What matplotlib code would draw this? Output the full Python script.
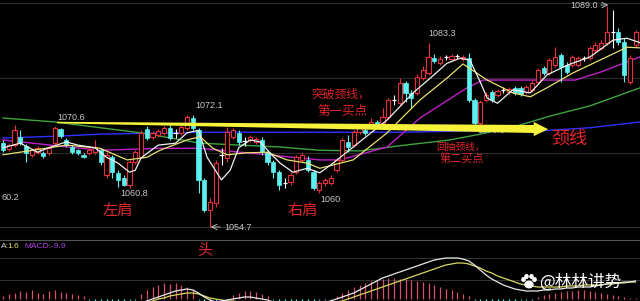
import numpy as np
import matplotlib
matplotlib.use('Agg')
import matplotlib.pyplot as plt
from matplotlib.patches import Rectangle, Polygon, Ellipse

# ---------------- data ----------------
opens = [1067.7,1066.8,1067.4,1068.7,1067.3,1065.9,1066.3,1066.2,1066.2,1067.7,
         1069.9,1068.2,1067.1,1066.6,1065.9,1066.2,1066.3,1066.6,1062.8,1065.5,
         1063.1,1062.3,1061.2,1064.8,1065.5,1069.9,1068.7,1069.0,1069.3,1070.1,
         1069.3,1069.3,1070.1,1071.6,1069.7,1062.0,1057.3,1058.4,1065.9,1065.4,
         1068.7,1069.3,1068.0,1068.2,1067.9,1068.2,1066.3,1064.8,1063.2,1061.5,
         1061.7,1063.2,1065.1,1065.1,1063.2,1060.4,1061.5,1061.5,1063.5,1065.1,
         1067.9,1067.4,1069.4,1069.7,1070.5,1071.0,1070.8,1071.8,1074.4,1073.9,
         1077.0,1075.5,1075.5,1077.8,1078.6,1080.9,1080.1,1081.1,1080.8,1081.2,
         1080.8,1080.9,1074.4,1070.8,1074.4,1075.6,1075.2,1076.0,1075.6,1076.3,
         1076.3,1075.6,1076.0,1077.2,1079.4,1078.6,1079.8,1081.4,1079.8,1079.8,
         1079.8,1080.9,1080.9,1082.2,1082.5,1083.3,1085.0,1085.0,1083.4,1077.2,
         1082.9]
closes = [1066.6,1067.4,1069.7,1067.7,1066.2,1066.6,1066.9,1065.7,1066.9,1070.1,
          1068.8,1067.4,1066.3,1066.2,1065.5,1066.6,1067.1,1064.8,1065.9,1063.2,
          1062.0,1061.2,1064.8,1066.3,1069.3,1068.5,1069.3,1069.6,1070.1,1068.5,
          1069.25,1070.2,1071.8,1070.1,1062.0,1057.3,1058.6,1064.6,1065.85,1069.4,
          1069.7,1067.9,1068.0,1068.7,1068.3,1066.3,1064.8,1063.2,1061.2,1061.5,
          1062.8,1065.5,1065.9,1063.5,1060.7,1061.5,1062.0,1062.3,1065.1,1068.2,
          1067.1,1069.4,1070.2,1069.3,1071.0,1070.5,1071.8,1074.4,1074.4,1077.0,
          1075.5,1074.7,1078.0,1079.1,1081.1,1080.5,1080.8,1081.1,1081.2,1081.2,
          1081.1,1074.4,1070.8,1074.1,1075.2,1074.4,1075.8,1076.0,1076.1,1075.5,
          1075.3,1076.4,1077.0,1079.1,1078.6,1080.6,1081.1,1079.5,1078.7,1081.1,
          1080.9,1080.9,1082.5,1082.9,1083.3,1085.0,1085.0,1083.4,1078.3,1080.9,
          1085.0]
highs = [1068.2,1067.7,1070.5,1069.7,1067.6,1066.9,1067.3,1066.5,1067.3,1070.4,
         1070.1,1068.5,1067.4,1066.8,1066.2,1066.9,1068.2,1066.9,1066.3,1065.9,
         1063.5,1062.8,1065.1,1066.6,1069.7,1070.4,1069.6,1069.9,1070.4,1070.5,
         1069.9,1070.5,1072.0,1072.1,1070.1,1062.3,1059.2,1065.1,1066.9,1070.2,
         1070.1,1069.7,1068.7,1069.0,1068.7,1068.7,1066.6,1065.1,1063.5,1062.3,
         1063.2,1065.9,1066.2,1065.7,1063.5,1061.8,1062.3,1062.8,1065.4,1068.5,
         1069.0,1069.7,1070.7,1070.2,1071.6,1071.3,1073.2,1074.7,1075.2,1077.8,
         1077.4,1076.0,1078.4,1079.7,1083.3,1081.5,1081.2,1081.4,1081.5,1081.5,
         1081.4,1081.7,1074.7,1074.4,1075.6,1076.0,1076.1,1076.4,1076.4,1076.6,
         1076.6,1076.7,1077.5,1079.4,1079.7,1080.9,1082.6,1081.7,1080.3,1081.4,
         1081.2,1081.2,1082.8,1083.4,1083.7,1089.0,1088.4,1085.6,1084.0,1081.4,
         1085.3]
lows = [1066.3,1066.5,1067.1,1067.4,1064.8,1065.5,1066.0,1065.4,1065.9,1067.4,
        1068.5,1067.1,1066.0,1065.9,1065.4,1065.9,1066.0,1064.3,1062.3,1062.3,
        1060.9,1061.0,1060.8,1064.5,1065.4,1068.2,1068.3,1068.7,1069.0,1068.2,
        1068.5,1069.0,1069.7,1069.7,1060.0,1057.0,1054.7,1057.8,1064.3,1064.8,
        1068.3,1067.4,1067.3,1067.9,1067.6,1065.9,1064.3,1062.3,1060.4,1060.7,
        1061.2,1062.9,1064.8,1063.2,1060.4,1060.0,1061.1,1061.2,1063.2,1064.8,
        1066.3,1067.1,1069.1,1069.0,1070.2,1070.2,1070.5,1071.5,1073.6,1073.6,
        1074.1,1073.2,1075.2,1077.5,1078.3,1080.1,1079.8,1080.6,1080.5,1080.8,
        1080.5,1074.1,1070.3,1070.4,1074.1,1074.1,1074.9,1075.5,1075.3,1075.2,
        1075.0,1075.3,1075.6,1076.9,1078.3,1078.3,1079.5,1077.2,1078.4,1079.5,
        1079.5,1080.5,1080.6,1081.9,1082.2,1082.9,1082.5,1082.9,1077.2,1076.9,
        1082.6]

# moving average lines (candle index, price)
ma5_idx = [0,3,6,8,11,13,16,18,20,22,23,24,27,30,32,34,35.5,38,39.5,41,43,44.7,46.4,48.2,
           50.4,52.9,55.1,57.4,60.9,66.8,71.3,74.3,77.2,79.5,81.2,83,84.2,86,88.7,91.7,94.6,
           98.1,102.1,106.1,108.5,110.8]
ma5_val = [1067.0,1067.7,1066.3,1067.0,1067.9,1067.4,1067.0,1065.5,1064.6,1063.2,1063.5,1065.4,
           1067.4,1067.7,1069.3,1069.7,1065.5,1062.0,1063.5,1067.0,1068.2,1067.9,1066.2,1064.6,
           1063.2,1063.8,1063.1,1064.6,1067.1,1071.3,1075.5,1077.8,1080.1,1080.9,1080.6,1077.2,
           1074.7,1073.9,1076.0,1075.5,1078.3,1079.8,1081.1,1083.7,1084.0,1083.3]
ma10_idx = [0,5.2,11.1,16.9,21.6,25,27.3,32,34.3,36.5,39,42.4,45.9,49.4,52.9,55.1,60.9,66.8,
            72.5,77.2,80,84.2,88.7,91.7,94.6,99.1,105,108.5,110.8]
ma10_val = [1065.9,1066.6,1067.4,1066.9,1065.1,1065.5,1066.6,1068.2,1068.7,1066.9,1065.9,1066.2,
            1066.3,1065.1,1064.6,1063.8,1065.1,1069.3,1074.4,1077.8,1080.0,1077.5,1075.5,1074.9,
            1076.3,1078.6,1081.1,1082.6,1082.5]
ma20_idx = [0,8.2,16.9,27.3,34.3,41.2,48.2,55.1,58.6,66.8,72.5,80.7,83.5,99.5,103.8,110.8]
ma20_val = [1068.2,1067.4,1066.6,1066.9,1066.9,1066.3,1065.7,1065.1,1065.1,1067.1,1071.6,
            1076.3,1077.5,1077.5,1078.7,1081.1]
ma60_idx = [0,9,16.9,24,34.3,48.2,55.1,62.1,69,77.7,83,88.7,95.1,102.1,110.8]
ma60_val = [1071.6,1071.0,1070.1,1069.3,1067.7,1067.1,1066.6,1066.5,1067.3,1068.2,1069.1,
            1070.2,1071.9,1073.5,1076.3]
ma120_idx = [0,9.9,16.9,34.3,55.1,69,81.2,93.4,102.1,110.8]
ma120_val = [1068.5,1068.8,1069.1,1069.4,1069.4,1069.4,1069.6,1069.6,1070.1,1071.0]

neck_idx = [9.4, 92.3]
neck_val = [1070.9, 1069.9]

macd_hist = [0.3,0.5,0.6,0.8,0.7,0.9,0.6,0.5,0.8,0.9,0.7,0.6,0.5,0.4,0.3,
             -0.1,-0.2,-0.3,-0.3,-0.3,-0.2,-0.2,-0.1,-0.1,
             0.5,0.9,1.2,1.4,1.6,1.5,1.6,1.4,1.2,1.0,
             -0.1,-0.2,-0.3,-0.3,-0.2,-0.1,
             0.4,0.6,0.8,0.8,0.7,0.5,0.3,
             -0.1,-0.2,-0.3,-0.3,-0.3,-0.3,-0.2,-0.2,-0.1,-0.1,-0.1,
             0.3,0.6,0.9,1.2,1.4,1.6,1.8,1.9,2.0,2.1,2.1,2.0,2.0,1.9,1.8,1.7,1.6,1.4,1.2,1.0,0.9,0.7,0.5,0.3,
             -0.1,-0.2,-0.3,-0.3,-0.3,-0.3,-0.2,-0.2,-0.1,-0.1,-0.1,
             0.2,0.4,0.5,0.6,0.7,0.8,0.8,0.9,0.9,0.8,0.7,0.6,0.5,0.4,0.3,0.2,0.1,0.1]
macd_dif = [-0.6]*24 + [-0.4,-0.2,0.0,0.2,0.4,0.6,0.8,0.9,1.0,0.9,0.6,0.2,-0.1,-0.3,-0.2,-0.1,
            0.0,0.1,0.2,0.2,0.1,0.0,-0.1] + [-0.3]*10 + [-0.2,0.0,0.2,0.4,0.6,0.9,1.2,1.5,1.8,2.1,
            2.3,2.5,2.7,2.9,3.1,3.3,3.5,3.7,3.9,4.0,4.1,4.1,4.1,4.0,3.8,3.4,2.9,2.4,2.0,1.7,1.4,
            1.2,1.0,0.9,0.8,0.8,0.8,0.9,0.9,1.0,1.0,1.1,1.1,1.2,1.2,1.2,1.3,1.4,1.5,1.6,1.6,1.7,
            1.7,1.8]
macd_dea = [-0.6]*25 + [-0.4,-0.2,0.0,0.1,0.3,0.4,0.5,0.6,0.6,0.5,0.3,0.1,0.0,-0.1,-0.2,-0.2] + \
           [-0.3]*18 + [-0.2,0.0,0.2,0.4,0.6,0.8,1.0,1.2,1.4,1.6,1.8,2.0,2.2,2.4,2.6,2.8,3.0,3.2,
           3.4,3.5,3.6,3.6,3.5,3.3,3.1,2.8,2.6,2.3,2.1,1.9,1.7,1.5,1.4,1.3,1.2,1.2,1.2,1.2,1.2,
           1.3,1.3,1.3,1.4,1.4,1.4,1.4,1.5,1.5,1.6,1.6,1.7,1.7]

# ---------------- figure ----------------
W, H = 640, 301
fig = plt.figure(figsize=(6.4, 3.01), dpi=100, facecolor='black')

def box(x0, y0, x1, y1):
    return [x0 / W, 1 - y1 / H, (x1 - x0) / W, (y1 - y0) / H]

PX = 1 / 6.44          # price units per pixel
ax = fig.add_axes(box(0, 0, 640, 240))
ax.set_facecolor('black')
ax.set_xlim(-0.522, 110.78)
ax.set_ylim(1089.0 - 234 * PX, 1089.0 + 6 * PX)
ax.axis('off')

axm = fig.add_axes(box(0, 240, 640, 301))
axm.set_facecolor('black')
axm.set_xlim(-0.522, 110.78)
axm.set_ylim(-0.2, 5.9)
axm.axis('off')

ov = fig.add_axes([0, 0, 1, 1], zorder=10)
ov.set_xlim(0, W)
ov.set_ylim(H, 0)
ov.axis('off')
ov.patch.set_alpha(0)

# grid lines
for y, c in [(3, '#303030'), (78, '#2c2c2c'), (153, '#2c2c2c'), (227, '#333333'),
             (240, '#555555'), (258, '#303030'), (280, '#303030')]:
    fig.add_artist(plt.Line2D([0, 1], [1 - y / H, 1 - y / H], color=c, lw=0.8,
                              transform=fig.transFigure, zorder=0))

# MA lines
ax.plot(ma120_idx, ma120_val, color='#3030ff', lw=1.0, zorder=2)
ax.plot(ma60_idx, ma60_val, color='#3fa33f', lw=1.0, zorder=2)
ax.plot(ma20_idx, ma20_val, color='#c020c8', lw=1.0, zorder=2)

# candles
RED = '#e8303a'
CYAN = '#5cf0f0'
bw = 0.7
for i, (o, c, h, l) in enumerate(zip(opens, closes, highs, lows)):
    top, bot = max(o, c), min(o, c)
    if abs(o - c) < 0.1:
        ax.vlines(i, l, h, color='white', lw=0.8, zorder=3)
        ax.hlines(c, i - bw / 2, i + bw / 2, color='white', lw=0.9, zorder=3)
    elif c > o:
        ax.vlines(i, top, h, color=RED, lw=0.8, zorder=3)
        ax.vlines(i, l, bot, color=RED, lw=0.8, zorder=3)
        ax.add_patch(Rectangle((i - bw / 2, bot), bw, top - bot, facecolor='black',
                               edgecolor=RED, lw=0.8, zorder=3))
    else:
        ax.vlines(i, l, h, color=CYAN, lw=0.8, zorder=3)
        ax.add_patch(Rectangle((i - bw / 2, bot), bw, top - bot, facecolor=CYAN,
                               edgecolor=CYAN, lw=0.5, zorder=3))

ax.plot(ma10_idx, ma10_val, color='#e8e070', lw=0.9, zorder=4)
ax.plot(ma5_idx, ma5_val, color='#f0f0f0', lw=0.9, zorder=4)

# label partly hidden behind the neckline arrow
ax.text(82.5, 1070.3, '1070.3', color='#bbbbbb', fontsize=6.5, va='top',
        family='Liberation Sans', zorder=4)

# neckline arrow (tapered)
x0n, x1n = neck_idx
y0n, y1n = neck_val
t0, t1 = 0.12, 0.62
head_len, head_h = 2.5, 1.1
slope = (y1n - y0n) / (x1n - x0n)
poly = [(x0n, y0n + t0), (x1n, y1n + t1), (x1n, y1n + head_h),
        (x1n + head_len, y1n + slope * head_len), (x1n, y1n - head_h),
        (x1n, y1n - t1), (x0n, y0n - t0)]
ax.add_patch(Polygon(poly, closed=True, facecolor='#f6f23a', edgecolor='none', zorder=5))

# MACD
for i, v in enumerate(macd_hist):
    axm.vlines(i, 0, v, color=('#d8506a' if v > 0 else CYAN), lw=0.9)
axm.plot(range(len(macd_dea)), macd_dea, color='#d8d860', lw=0.9)
axm.plot(range(len(macd_dif)), macd_dif, color='#e8e8e8', lw=0.9)

# ---------------- text ----------------
lab = dict(color='#c8c8c8', fontsize=6.5, family='Liberation Sans', va='center')
ov.text(57, 117, '1070.6', **lab)
ov.text(195, 105, '1072.1', **lab)
ov.text(120, 194, '1060.8', **lab)
ov.text(224, 227, '1054.7', **lab)
ov.annotate('', xy=(208, 227), xytext=(223, 227),
            arrowprops=dict(arrowstyle='->', color='#c8c8c8', lw=0.6))
ov.text(320, 200, '1060', **lab)
ov.text(428, 33, '1083.3', **lab)
ov.text(570, 5, '1089.0', **lab)
ov.annotate('', xy=(611, 5), xytext=(598, 5),
            arrowprops=dict(arrowstyle='->', color='#c8c8c8', lw=0.6))
ov.text(1, 197, '60.2', **lab)

cjk = ['Noto Sans CJK SC', 'DejaVu Sans']
R = '#e0262b'
ov.text(118, 211, '左肩', color=R, fontsize=11, family=cjk, ha='center', va='center')
ov.text(205, 250, '头', color=R, fontsize=11, family=cjk, ha='center', va='center')
ov.text(303, 210, '右肩', color=R, fontsize=11, family=cjk, ha='center', va='center')
ov.text(569, 138, '颈线', color=R, fontsize=13, family=cjk, ha='center', va='center')
ov.text(311, 94, '突破颈线，', color=R, fontsize=8.5, family=cjk, va='center')
ov.text(317, 111, '第一买点', color=R, fontsize=9, family=cjk, va='center')
ov.text(436, 147, '回抽颈线，', color=R, fontsize=7, family=cjk, va='center')
ov.text(440, 159, '第二买点', color=R, fontsize=8, family=cjk, va='center')

ov.text(1, 247, 'A:', color='#d0d0d0', fontsize=6, family='Liberation Sans', va='center')
ov.text(7.5, 247, '1.6', color='#e0e060', fontsize=6, family='Liberation Sans', va='center')
ov.text(24, 247, 'MACD:-9.9', color='#b040e0', fontsize=6, family='Liberation Sans', va='center')

# watermark with paw icon
ov.add_patch(Ellipse((529, 284.5), 8, 6.5, color='white'))
for (px, py) in [(523.5, 279.5), (526.5, 276.5), (531.5, 276.5), (534.5, 279.5)]:
    ov.add_patch(Ellipse((px, py), 3.2, 3.6, color='white'))
ov.text(539, 282, '@林林讲势', color='white', fontsize=12, family=cjk, va='center')

fig.savefig('out.png', dpi=100, facecolor='black')
